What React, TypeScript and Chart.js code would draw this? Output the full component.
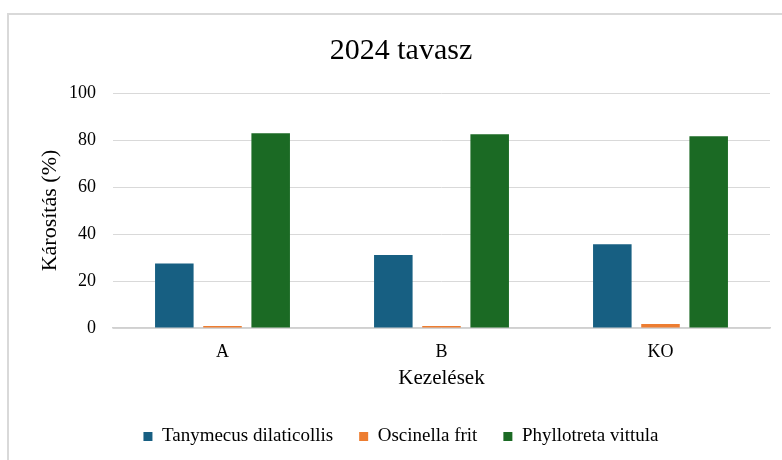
import React, { useEffect, useRef } from "react";
import { Chart, registerables } from "chart.js";

Chart.register(...registerables);

const categories = ["A", "B", "KO"];
const tanymecus = [27.5, 31.1, 35.6];
const oscinella = [0.8, 0.8, 1.7];
const phyllotreta = [82.9, 82.4, 81.6];
const seriesNames = ["Tanymecus dilaticollis", "Oscinella frit", "Phyllotreta vittula"];
const seriesColors = ["#175F82", "#ED7D31", "#1B6A24"];

const FONT = "'Liberation Serif', 'Times New Roman', serif";

const framePlugin = {
  id: "frame",
  beforeDraw(chart: any) {
    const ctx = chart.ctx;
    ctx.save();
    ctx.fillStyle = "#ffffff";
    ctx.fillRect(0, 0, chart.width, chart.height);
    ctx.strokeStyle = "#d9d9d9";
    ctx.lineWidth = 2;
    ctx.strokeRect(8, 14, chart.width + 20, chart.height + 20);
    ctx.restore();
  },
};

export default function App() {
  const ref = useRef<HTMLCanvasElement>(null);
  useEffect(() => {
    if (!ref.current) return;
    Chart.defaults.font.family = FONT;
    const values = [tanymecus, oscinella, phyllotreta];
    const chart = new Chart(ref.current, {
      type: "bar",
      data: {
        labels: categories,
        datasets: values.map((v, i) => ({
          label: seriesNames[i],
          data: v,
          backgroundColor: seriesColors[i],
          borderWidth: 0,
          categoryPercentage: 0.66,
          barPercentage: 0.8,
        })),
      },
      options: {
        responsive: false,
        animation: false,
        devicePixelRatio: 1,
        layout: { padding: { left: 32, right: 30, top: 13, bottom: 4 } },
        plugins: {
          title: {
            display: true,
            text: "2024 tavasz",
            color: "#000000",
            font: { family: FONT, size: 30, weight: "normal" },
            padding: { top: 20, bottom: 24 },
          },
          legend: {
            position: "bottom",
            labels: {
              color: "#000000",
              font: { family: FONT, size: 19 },
              boxWidth: 9,
              boxHeight: 9,
              padding: 26,
            },
          },
          tooltip: { enabled: false },
        },
        scales: {
          x: {
            grid: { display: false, drawTicks: false },
            border: { display: true, color: "#d0d0d0", width: 1.5 },
            ticks: {
              color: "#000000",
              font: { family: FONT, size: 18 },
              padding: 13,
            },
            title: {
              display: true,
              text: "Kezelések",
              color: "#000000",
              font: { family: FONT, size: 21 },
              padding: { top: 0, bottom: 10 },
            },
            afterFit: (s: any) => {
              s.height = 73;
            },
          },
          y: {
            min: 0,
            max: 100,
            ticks: {
              stepSize: 20,
              color: "#000000",
              font: { family: FONT, size: 18 },
              padding: 17,
            },
            grid: { color: "#d9d9d9", lineWidth: 1, drawTicks: false },
            border: { display: false },
            title: {
              display: true,
              text: "Károsítás (%)",
              color: "#000000",
              font: { family: FONT, size: 22 },
              padding: { top: 5, bottom: 0 },
            },
            afterFit: (s: any) => {
              s.width = 81;
            },
          },
        },
      },
      plugins: [framePlugin],
    } as any);
    return () => chart.destroy();
  }, []);
  return (
    <div style={{ position: "fixed", left: 0, top: 0, width: 782, height: 460, overflow: "hidden", background: "#fff" }}>
      <canvas ref={ref} width={800} height={460} style={{ display: "block", width: 800, height: 460 }} />
    </div>
  );
}
